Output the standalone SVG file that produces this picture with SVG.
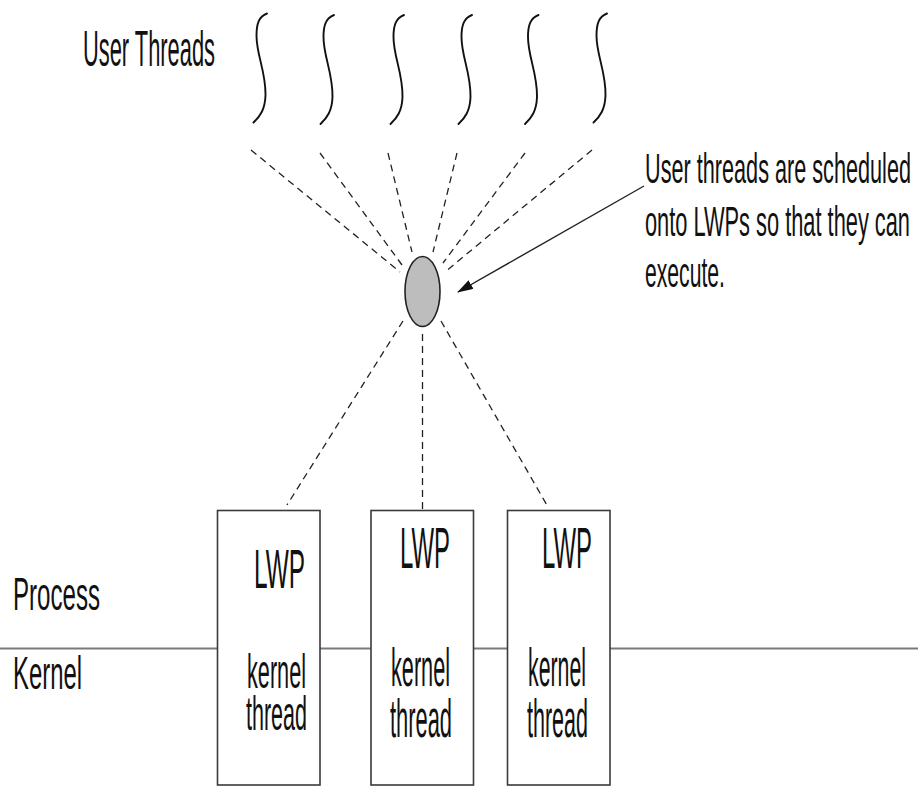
<svg xmlns="http://www.w3.org/2000/svg" xmlns:xlink="http://www.w3.org/1999/xlink" width="918" height="787" viewBox="0 0 918 787">
  <style>
    .lbl { font-family: "Liberation Sans", Arial, sans-serif; fill: #111; }
    .dash { stroke: #222; stroke-width: 1.3; stroke-dasharray: 7 5; fill: none; }
    .thread { stroke: #111; stroke-width: 1.9; fill: none; stroke-linecap: round; }
    .box { fill: #fff; stroke: #3a3a3a; stroke-width: 1.6; }
  </style>
  <defs>
    <path id="squiggle" d="M 0,0 C -8,3 -10.5,10 -10.5,22 C -10.5,42 -1,58 -1.5,82 C -2,96 -7,103 -13.5,109" />
    <marker id="arrowhead" markerWidth="16" markerHeight="10" refX="15" refY="5" orient="auto" markerUnits="userSpaceOnUse">
      <path d="M 0,0 L 16,5 L 0,10 Z" fill="#111" />
    </marker>
  </defs>

  <rect width="918" height="787" fill="#fff" />

  <!-- process / kernel boundary -->
  <line x1="0" y1="648.5" x2="918" y2="648.5" stroke="#7a7a7a" stroke-width="2" />
  <text class="lbl" x="13" y="610" font-size="47" textLength="87" lengthAdjust="spacingAndGlyphs">Process</text>
  <text class="lbl" x="13" y="689" font-size="47" textLength="69" lengthAdjust="spacingAndGlyphs">Kernel</text>

  <!-- user threads -->
  <g id="user-threads">
    <text class="lbl" x="83" y="66" font-size="50" textLength="132" lengthAdjust="spacingAndGlyphs">User Threads</text>
    <use xlink:href="#squiggle" class="thread" x="267" y="13.5" />
    <use xlink:href="#squiggle" class="thread" x="334" y="15" />
    <use xlink:href="#squiggle" class="thread" x="404" y="15" />
    <use xlink:href="#squiggle" class="thread" x="472" y="15" />
    <use xlink:href="#squiggle" class="thread" x="538.5" y="15" />
    <use xlink:href="#squiggle" class="thread" x="607" y="13.5" />
  </g>

  <!-- connectors -->
  <g id="connectors">
    <line class="dash" x1="251" y1="150" x2="400" y2="272" />
    <line class="dash" x1="320" y1="153" x2="402" y2="265" />
    <line class="dash" x1="388" y1="153" x2="412" y2="252" />
    <line class="dash" x1="457" y1="153" x2="433" y2="252" />
    <line class="dash" x1="525" y1="153" x2="443" y2="263" />
    <line class="dash" x1="592" y1="150" x2="445" y2="272" />
    <line class="dash" x1="403" y1="321" x2="287" y2="505" />
    <line class="dash" x1="422.5" y1="334" x2="422.5" y2="510" />
    <line class="dash" x1="441" y1="321" x2="548" y2="507" />
    <line x1="644" y1="186" x2="458" y2="292" stroke="#222" stroke-width="1.4" marker-end="url(#arrowhead)" />
  </g>

  <!-- LWP scheduling point -->
  <g id="lwp-point">
    <ellipse cx="422.5" cy="291.5" rx="17.5" ry="35" fill="#bdbdbd" stroke="#222" stroke-width="1.6" />
  </g>

  <g id="note">
    <text class="lbl" x="645" y="183" font-size="42" textLength="266" lengthAdjust="spacingAndGlyphs">User threads are scheduled</text>
    <text class="lbl" x="645" y="236" font-size="42" textLength="265" lengthAdjust="spacingAndGlyphs">onto LWPs so that they can</text>
    <text class="lbl" x="645" y="287" font-size="42" textLength="80" lengthAdjust="spacingAndGlyphs">execute.</text>
  </g>

  <!-- LWP / kernel thread boxes -->
  <g id="lwp-1">
    <rect class="box" x="217.5" y="510.5" width="102.5" height="274.5" />
    <text class="lbl" x="254" y="588" font-size="55" textLength="51" lengthAdjust="spacingAndGlyphs">LWP</text>
    <text class="lbl" x="247" y="688" font-size="48" textLength="59" lengthAdjust="spacingAndGlyphs">kernel</text>
    <text class="lbl" x="246" y="730" font-size="48" textLength="61" lengthAdjust="spacingAndGlyphs">thread</text>
  </g>
  <g id="lwp-2">
    <rect class="box" x="371" y="510.5" width="102.5" height="274.5" />
    <text class="lbl" x="400" y="568" font-size="57" textLength="50" lengthAdjust="spacingAndGlyphs">LWP</text>
    <text class="lbl" x="391" y="686" font-size="54" textLength="59" lengthAdjust="spacingAndGlyphs">kernel</text>
    <text class="lbl" x="390" y="737" font-size="54" textLength="62" lengthAdjust="spacingAndGlyphs">thread</text>
  </g>
  <g id="lwp-3">
    <rect class="box" x="507.5" y="510.5" width="102.5" height="274.5" />
    <text class="lbl" x="542" y="568" font-size="57" textLength="50" lengthAdjust="spacingAndGlyphs">LWP</text>
    <text class="lbl" x="528" y="686" font-size="54" textLength="58" lengthAdjust="spacingAndGlyphs">kernel</text>
    <text class="lbl" x="527" y="737" font-size="54" textLength="61" lengthAdjust="spacingAndGlyphs">thread</text>
  </g>
</svg>
